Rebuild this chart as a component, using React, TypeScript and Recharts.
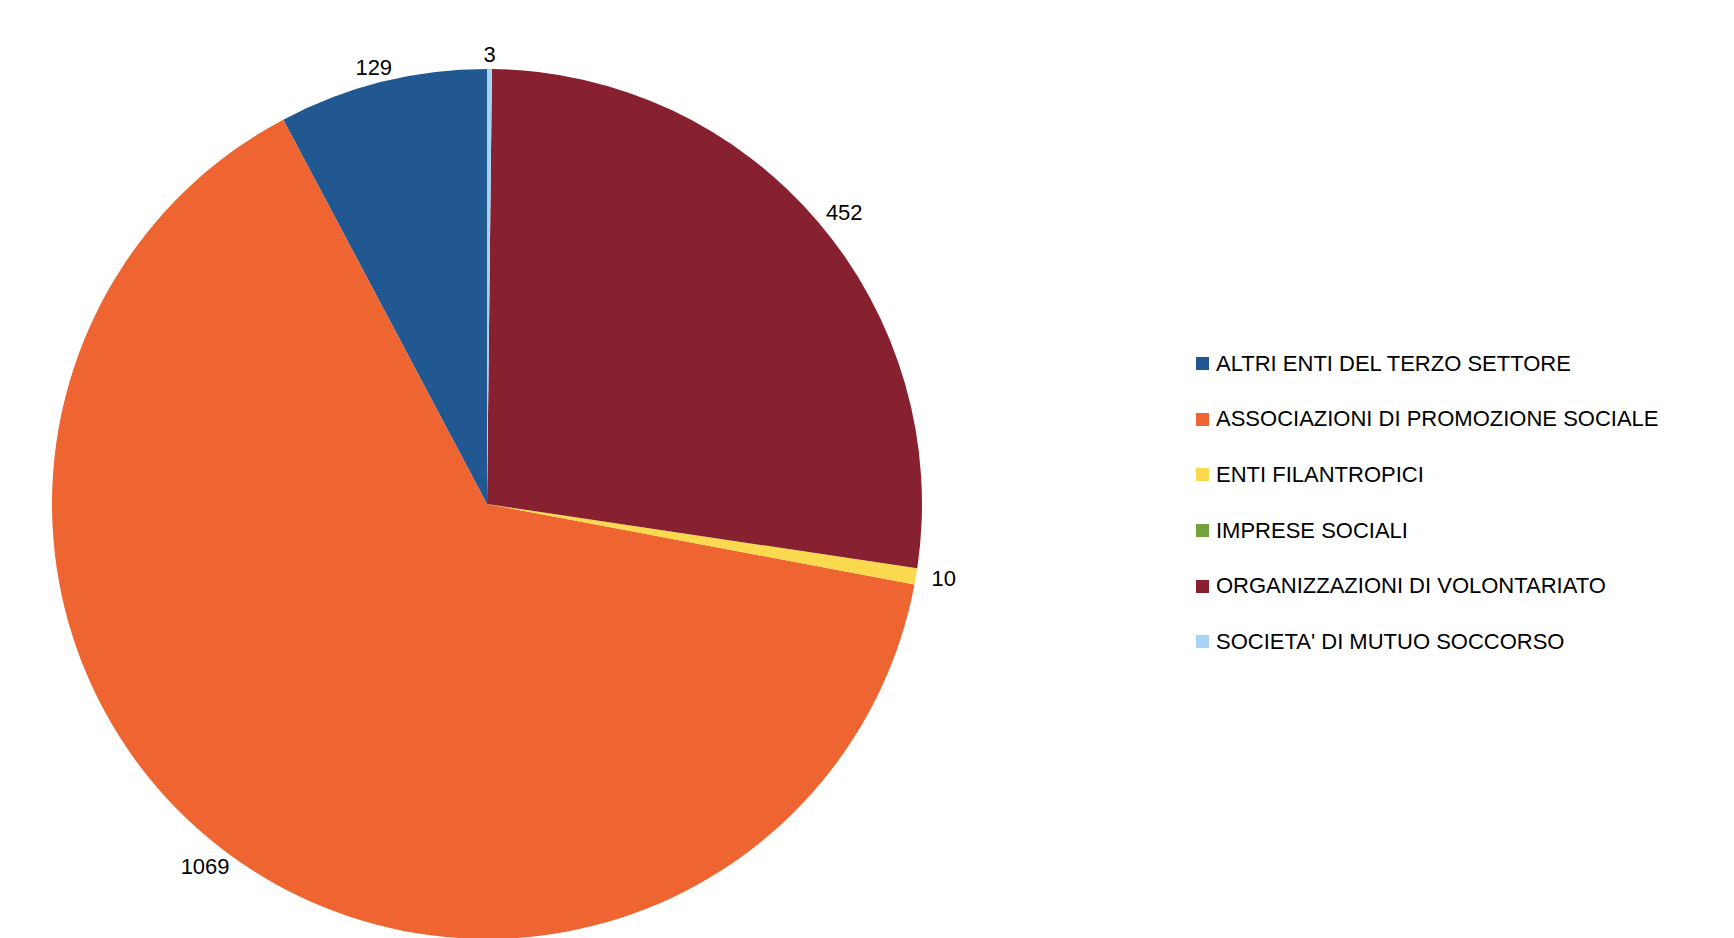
import { PieChart, Pie, Cell, Legend } from "recharts";

const CATEGORIES = [
  "ALTRI ENTI DEL TERZO SETTORE",
  "ASSOCIAZIONI DI PROMOZIONE SOCIALE",
  "ENTI FILANTROPICI",
  "IMPRESE SOCIALI",
  "ORGANIZZAZIONI DI VOLONTARIATO",
  "SOCIETA' DI MUTUO SOCCORSO",
];
const VALUES = [129, 1069, 10, 0, 452, 3];
const COLORS = ["#215891", "#ee6531", "#fbd94f", "#72a23c", "#872130", "#a7d3f7"];

const data = CATEGORIES.map((name, i) => ({ name, value: VALUES[i] }));

const FONT = "'Liberation Sans', Arial, sans-serif";
const RADIAN = Math.PI / 180;

// labels sit just outside the rim; the text box is pushed out along the slice direction
function renderLabel(props: any) {
  const { cx, cy, outerRadius, midAngle, value } = props;
  if (!value) return null;
  const cos = Math.cos(-midAngle * RADIAN);
  const sin = Math.sin(-midAngle * RADIAN);
  const text = String(value);
  const halfW = text.length * 6.1;
  const halfH = 8;
  const rx = outerRadius + 4 + 12;
  const ry = outerRadius - 5 + 12;
  const x = cx + rx * cos + halfW * cos;
  const y = cy + ry * sin + halfH * sin;
  return (
    <text
      x={x}
      y={y}
      textAnchor="middle"
      dominantBaseline="central"
      fill="#000"
      fontSize={22}
      fontFamily={FONT}
    >
      {text}
    </text>
  );
}

function LegendBox() {
  return (
    <div style={{ fontFamily: FONT, fontSize: 22, color: "#000" }}>
      {data.map((d, i) => (
        <div
          key={d.name}
          style={{ display: "flex", alignItems: "center", height: 55.6 }}
        >
          <span
            style={{
              width: 13,
              height: 13,
              background: COLORS[i],
              display: "inline-block",
              marginRight: 7,
            }}
          />
          <span style={{ lineHeight: 1, whiteSpace: "nowrap" }}>{d.name}</span>
        </div>
      ))}
    </div>
  );
}

export default function App() {
  return (
    <div style={{ position: "absolute", top: 0, left: 0, background: "#fff" }}>
      <PieChart width={1734} height={938}>
        <Pie
          data={data}
          dataKey="value"
          nameKey="name"
          cx={482}
          cy={499}
          outerRadius={435}
          startAngle={90}
          endAngle={450}
          stroke="none"
          label={renderLabel}
          labelLine={false}
          isAnimationActive={false}
        >
          {data.map((d, i) => (
            <Cell key={d.name} fill={COLORS[i]} />
          ))}
        </Pie>
        <Legend
          content={() => <LegendBox />}
          wrapperStyle={{ position: "absolute", left: 1196, top: 336, width: 520 }}
        />
      </PieChart>
    </div>
  );
}
